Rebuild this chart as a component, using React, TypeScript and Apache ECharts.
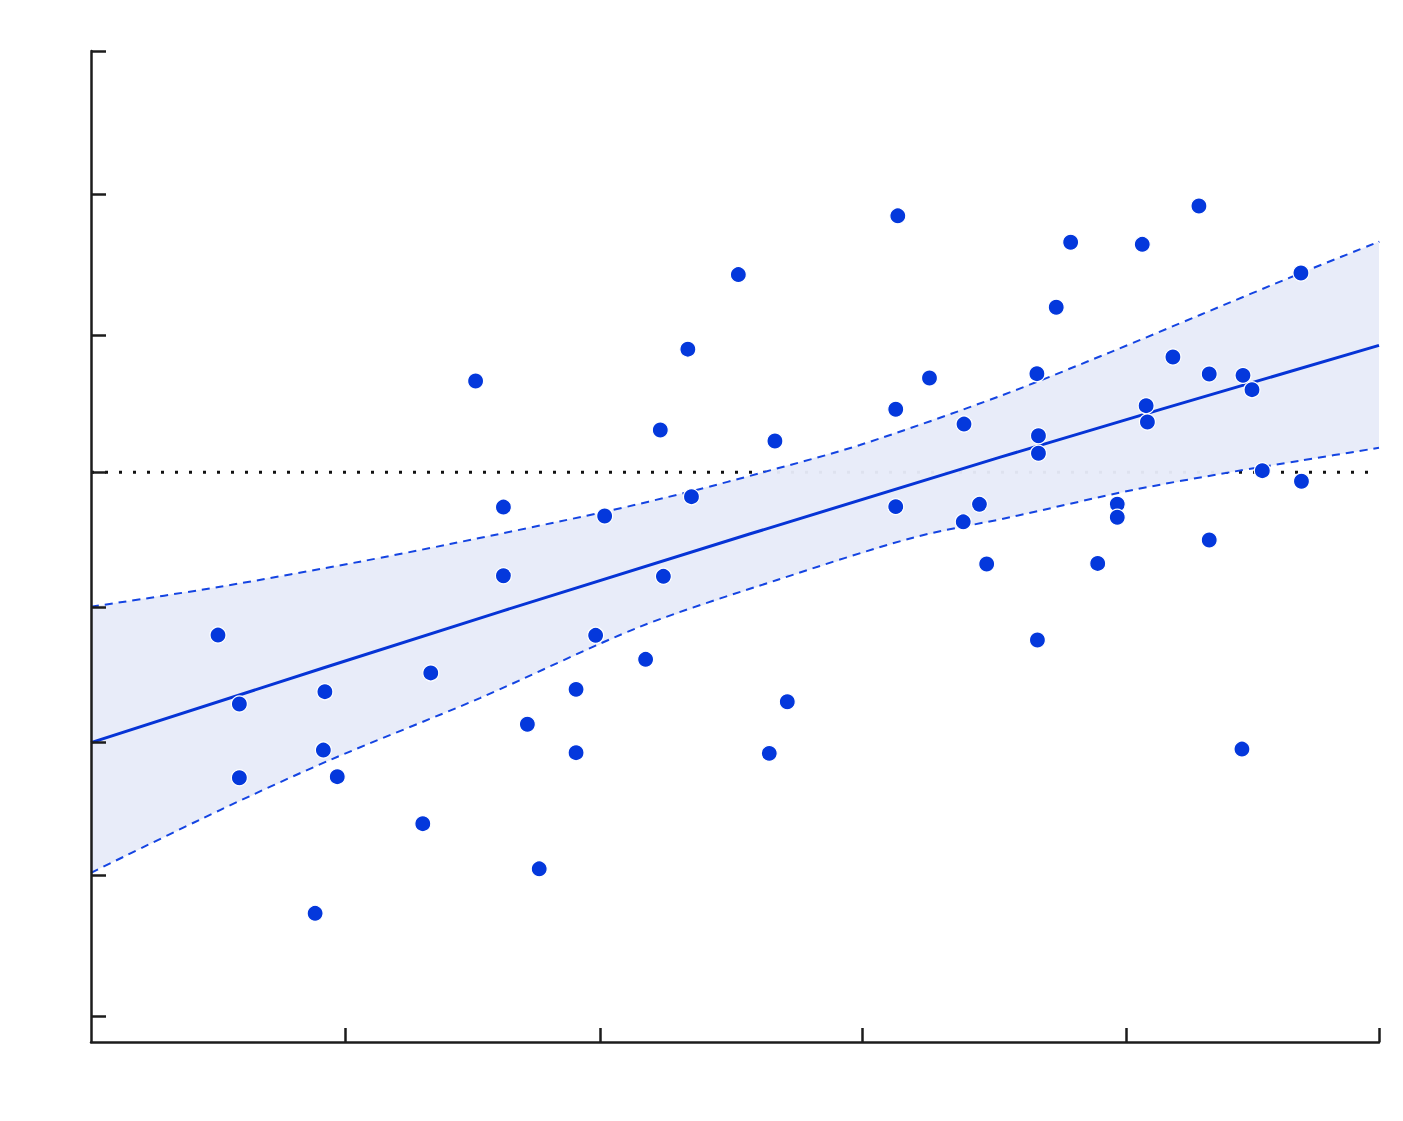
import React, { useEffect, useRef } from "react";
import * as echarts from "echarts";

// Scatter observations [x, y]
const points: number[][] = [
  [0.493, -1.18], [0.576, -1.68], [0.576, -2.215], [0.87, -3.198], [0.902, -2.014],
  [0.908, -1.591], [0.956, -2.207], [1.288, -2.548], [1.319, -1.455], [1.493, 0.662],
  [1.601, -0.252], [1.601, -0.75], [1.694, -1.827], [1.74, -2.875], [1.883, -1.574],
  [1.883, -2.033], [1.959, -1.182], [1.994, -0.317], [2.153, -1.356], [2.21, 0.307],
  [2.222, -0.754], [2.317, 0.893], [2.331, -0.177], [2.513, 1.434], [2.633, -2.038],
  [2.655, 0.227], [2.703, -1.664], [3.132, 1.86], [3.124, 0.457], [3.124, -0.249],
  [3.255, 0.684], [3.389, 0.35], [3.386, -0.359], [3.449, -0.232], [3.477, -0.665],
  [3.672, 0.715], [3.678, 0.265], [3.678, 0.138], [3.674, -1.216], [3.747, 1.197],
  [3.803, 1.668], [3.908, -0.661], [3.984, -0.231], [3.984, -0.326], [4.081, 1.653],
  [4.096, 0.483], [4.101, 0.365], [4.2, 0.836], [4.301, 1.931], [4.341, 0.713],
  [4.341, -0.491], [4.468, -2.007], [4.472, 0.703], [4.507, 0.599], [4.547, 0.012],
  [4.697, 1.445], [4.699, -0.065],
];

// Fitted regression line
const fitLine: number[][] = [
  [0, -1.96], [1.59, -1.01], [3.53, 0.11], [5, 0.92],
];

// Confidence band edges
const bandUpper: number[][] = [
  [0, -0.975], [0.501, -0.83], [1.044, -0.648], [1.394, -0.52], [1.995, -0.286],
  [2.333, -0.136], [2.609, 0], [2.985, 0.198], [3.529, 0.553],
  [3.956, 0.87], [4.305, 1.141], [4.697, 1.445], [5, 1.672],
];
const bandLower: number[][] = [
  [0, -2.904], [0.501, -2.449], [0.928, -2.086], [1.51, -1.637], [2.131, -1.12],
  [2.663, -0.781], [3.191, -0.474], [3.568, -0.326], [4.045, -0.128],
  [4.433, 0.004], [4.693, 0.084], [5, 0.178],
];

// Reference (zero) line
const zeroLine: number[][] = [[0, 0], [5, 0]];

// Tick positions (no labels shown)
const xTicks = [0.986, 1.976, 2.993, 4.018, 5.0];
const yTicks = [-3.943, -2.924, -1.958, -0.977, 0, 0.996, 2.018, 3.055];
const xRange = [0, 5];
const yRange = [-4.131, 3.055];

const BLUE = "#0438dc";
const AXIS = "#1c1c1c";
const SMOOTH = 0.3;

export default function App() {
  const ref = useRef<HTMLDivElement>(null);

  useEffect(() => {
    if (!ref.current) return;
    const chart = echarts.init(ref.current, undefined, { renderer: "svg" });
    const option: any = {
      animation: false,
      backgroundColor: "#ffffff",
      grid: { left: 91, right: 24, top: 51, bottom: 79, outerBoundsMode: "none" },
      xAxis: {
        type: "value",
        min: xRange[0],
        max: xRange[1],
        z: 10,
        axisLine: { show: true, onZero: false, lineStyle: { color: AXIS, width: 2.5 } },
        axisTick: { show: true, inside: true, length: 14, customValues: xTicks, lineStyle: { color: AXIS, width: 2.5 } },
        axisLabel: { show: false },
        splitLine: { show: false },
      },
      yAxis: {
        type: "value",
        min: yRange[0],
        max: yRange[1],
        z: 10,
        axisLine: { show: true, onZero: false, lineStyle: { color: AXIS, width: 2.5 } },
        axisTick: { show: true, inside: true, length: 15, customValues: yTicks, lineStyle: { color: AXIS, width: 2.5 } },
        axisLabel: { show: false },
        splitLine: { show: false },
      },
      series: [
        {
          type: "line",
          data: zeroLine,
          symbol: "none",
          silent: true,
          z: 1,
          lineStyle: { color: "#111111", width: 3, type: [3, 11] },
        },
        {
          type: "custom",
          z: 2,
          silent: true,
          data: [[0, 0]],
          renderItem: (_params: any, api: any) => {
            const up = bandUpper.map((p) => api.coord(p));
            const lo = bandLower.slice().reverse().map((p) => api.coord(p));
            return {
              type: "polygon",
              shape: { points: [...up, ...lo] },
              style: { fill: "rgba(231,235,249,0.96)" },
            };
          },
        },
        {
          type: "line",
          data: bandUpper,
          symbol: "none",
          silent: true,
          smooth: SMOOTH,
          z: 3,
          lineStyle: { color: "#1444e2", width: 2, type: [8, 6] },
        },
        {
          type: "line",
          data: bandLower,
          symbol: "none",
          silent: true,
          smooth: SMOOTH,
          z: 3,
          lineStyle: { color: "#1444e2", width: 2, type: [8, 6] },
        },
        {
          type: "line",
          data: fitLine,
          symbol: "none",
          silent: true,
          smooth: SMOOTH,
          z: 4,
          lineStyle: { color: "#0634d6", width: 3 },
        },
        {
          type: "scatter",
          data: points,
          symbolSize: 16,
          z: 5,
          itemStyle: { color: BLUE, borderColor: "#ffffff", borderWidth: 1.2, opacity: 1 },
        },
      ],
    };
    chart.setOption(option);
    return () => chart.dispose();
  }, []);

  return (
    <div
      ref={ref}
      style={{ position: "absolute", left: 0, top: 0, width: 1403, height: 1121, background: "#ffffff" }}
    />
  );
}
